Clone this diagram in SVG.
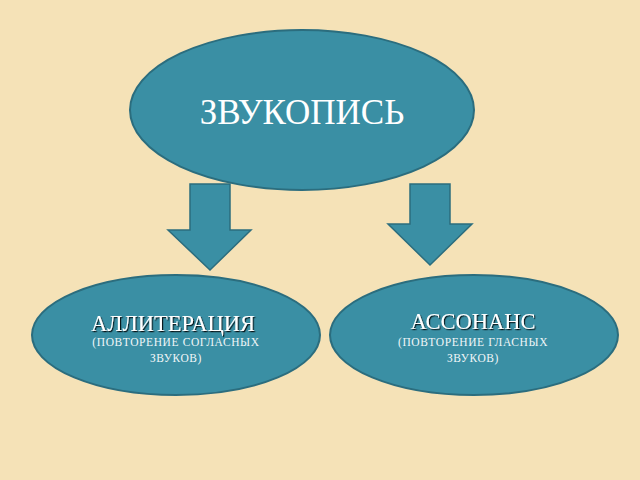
<svg xmlns="http://www.w3.org/2000/svg" width="640" height="480" viewBox="0 0 640 480">
<defs>
<style>
.node{fill:#3A8FA4;stroke:#2B6D7E;stroke-width:2}
.arrow{fill:#3A8FA4;stroke:#2B6D7E;stroke-width:1.5}
.title{font-family:"Liberation Serif","Times New Roman",serif;fill:#FFFFFF;text-anchor:middle}
.sub{font-family:"Liberation Serif","Times New Roman",serif;fill:#F0F6F8;text-anchor:middle;font-size:11.5px;letter-spacing:0.6px}
</style>
<filter id="sh" x="-10%" y="-30%" width="120%" height="160%">
<feDropShadow dx="1.2" dy="1.2" stdDeviation="0.6" flood-color="#000" flood-opacity="0.85"/>
</filter>
</defs>
<rect width="640" height="480" fill="#F5E2B7"/>
<g id="connectors">
<path class="arrow" d="M190,184 H230 V230 H251 L210,270 L168,230 H190 Z"/>
<path class="arrow" d="M410,184 H450 V224 H472 L430,265 L388,224 H410 Z"/>
</g>
<g id="zvukopis">
<ellipse class="node" cx="302" cy="110" rx="172" ry="80"/>
<text class="title" x="302" y="124" font-size="35">ЗВУКОПИСЬ</text>
</g>
<g id="alliteraciya">
<ellipse class="node" cx="176" cy="335" rx="144" ry="60"/>
<text class="title" x="173" y="331" font-size="22.5" filter="url(#sh)">АЛЛИТЕРАЦИЯ</text>
<text class="sub" x="176" y="346">(ПОВТОРЕНИЕ СОГЛАСНЫХ</text>
<text class="sub" x="176" y="362">ЗВУКОВ)</text>
</g>
<g id="assonans">
<ellipse class="node" cx="474" cy="335" rx="144" ry="60"/>
<text class="title" x="473" y="329" font-size="22.5" filter="url(#sh)">АССОНАНС</text>
<text class="sub" x="473" y="346">(ПОВТОРЕНИЕ ГЛАСНЫХ</text>
<text class="sub" x="473" y="362">ЗВУКОВ)</text>
</g>
</svg>
